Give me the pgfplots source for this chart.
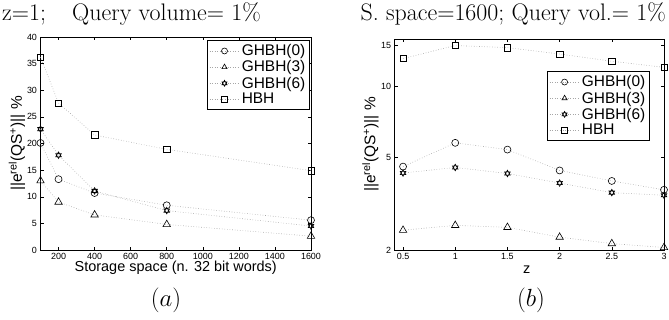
\documentclass[border=0pt]{standalone}
\usepackage{fontspec}
\setsansfont{Liberation Sans}
\usepackage{pgfplots}
\pgfplotsset{compat=1.18}
\pgfdeclareplotmark{hexagram}{%
  \pgfpathmoveto{\pgfqpointpolar{90}{\pgfplotmarksize}}%
  \pgfpathlineto{\pgfqpointpolar{210}{\pgfplotmarksize}}%
  \pgfpathlineto{\pgfqpointpolar{330}{\pgfplotmarksize}}%
  \pgfpathclose
  \pgfpathmoveto{\pgfqpointpolar{270}{\pgfplotmarksize}}%
  \pgfpathlineto{\pgfqpointpolar{30}{\pgfplotmarksize}}%
  \pgfpathlineto{\pgfqpointpolar{150}{\pgfplotmarksize}}%
  \pgfpathclose
  \pgfusepathqstroke
}
\newcommand{\ylab}{||e\textsuperscript{rel}(QS\textsuperscript{+})|| \%}
\pgfplotsset{
  myplot/.style={dotted, color=gray!70, line width=0.6pt,
      mark options={solid, black, line width=0.6pt}},
  mystyle/.style={
    scale only axis,
    clip=false,
    tick align=inside,
    major tick length=3bp,
    axis line style={line width=0.8pt},
    every tick/.style={black, line width=0.5pt},
    tick label style={font=\sffamily\fontsize{9}{10}\selectfont},
    /pgf/number format/assume math mode=true,
    /pgf/number format/1000 sep={},
    xlabel style={font=\sffamily\fontsize{14.5}{17}\selectfont},
    ylabel style={font=\sffamily\fontsize{15.5}{18}\selectfont},
    legend style={font=\sffamily\fontsize{15.5}{18}\selectfont, draw=black, line width=1.3pt,
      inner sep=2bp, row sep=-0.5bp, cells={anchor=west}},
    legend image code/.code={%
      \draw[#1, line width=0.6pt] (-5bp,0bp) -- (25bp,0bp);
      \draw[#1, line width=0.6pt, only marks, mark size=3bp] plot coordinates {(10bp,0bp)};
    },
  }
}
\begin{document}
\begin{tikzpicture}
\path[use as bounding box] (0,0) rectangle (669bp,-320bp);
% titles
\node[anchor=base west, font=\fontsize{24}{28}\selectfont, inner sep=0] at (2bp,-20bp) {z=1;};
\node[anchor=base east, font=\fontsize{24}{28}\selectfont, inner sep=0] at (261bp,-20bp) {Query volume= 1\%};
\node[anchor=base east, font=\fontsize{24}{28}\selectfont, inner sep=0] at (666bp,-20bp) {S. space=1600; Query vol.= 1\%};
\node[anchor=base, font=\fontsize{23}{26}\selectfont, inner sep=0] at (166bp,-306bp) {$(a)$};
\node[anchor=base, font=\fontsize{23}{26}\selectfont, inner sep=0] at (531bp,-306bp) {$(b)$};

\begin{axis}[mystyle,
  at={(40.5bp,-250bp)}, anchor=south west,
  width=270.5bp, height=213bp,
  xmin=100, xmax=1600, ymin=0, ymax=40,
  xtick={200,400,...,1600}, ytick={0,5,...,40},
  xlabel={Storage space (n. 32 bit words)},
  ylabel={\ylab},
  xlabel style={at={(axis description cs:0.5,-0.085)}, anchor=center},
  ylabel style={at={(axis description cs:-0.087,0.5)}, anchor=center},
  legend style={at={(0.996,0.986)}, anchor=north east},
]
\addplot[myplot, mark=o, mark size=3.5bp] coordinates {(100,20.1) (200,13.3) (400,10.7) (800,8.4) (1600,5.6)};
\addlegendentry{GHBH(0)}
\addplot[myplot, mark=triangle, mark size=4.3bp] coordinates {(100,13.0) (200,9.0) (400,6.6) (800,4.8) (1600,2.6)};
\addlegendentry{GHBH(3)}
\addplot[myplot, mark=hexagram, mark size=3.3bp] coordinates {(100,22.7) (200,17.8) (400,11.1) (800,7.4) (1600,4.5)};
\addlegendentry{GHBH(6)}
\addplot[myplot, mark=square, mark size=3.2bp] coordinates {(100,36.2) (200,27.6) (400,21.6) (800,18.9) (1600,14.9)};
\addlegendentry{HBH}
\end{axis}

\begin{axis}[mystyle,
  at={(394.7bp,-250bp)}, anchor=south west,
  width=269.3bp, height=211bp,
  xmin=0.42, xmax=3, ymin=2, ymax=16,
  ymode=log,
  xtick={0.5,1,...,3}, ytick={2,5,10,15}, yticklabels={2,5,10,15},
  minor ytick={},
  xticklabel style={/pgf/number format/fixed},
  xlabel={z},
  ylabel={\ylab},
  xlabel style={at={(axis description cs:0.49,-0.095)}, anchor=center},
  ylabel style={at={(axis description cs:-0.09,0.5)}, anchor=center},
  legend style={at={(0.948,0.848)}, anchor=north east},
]
\addplot[myplot, mark=o, mark size=3.5bp] coordinates {(0.5,4.55) (1,5.75) (1.5,5.38) (2,4.38) (2.5,3.95) (3,3.62)};
\addlegendentry{GHBH(0)}
\addplot[myplot, mark=triangle, mark size=4.3bp] coordinates {(0.5,2.43) (1,2.55) (1.5,2.50) (2,2.27) (2.5,2.13) (3,2.05)};
\addlegendentry{GHBH(3)}
\addplot[myplot, mark=hexagram, mark size=3.3bp] coordinates {(0.5,4.27) (1,4.51) (1.5,4.25) (2,3.87) (2.5,3.52) (3,3.43)};
\addlegendentry{GHBH(6)}
\addplot[myplot, mark=square, mark size=3.2bp] coordinates {(0.5,13.2) (1,15.0) (1.5,14.7) (2,13.8) (2.5,12.85) (3,12.1)};
\addlegendentry{HBH}
\end{axis}
\end{tikzpicture}
\end{document}
